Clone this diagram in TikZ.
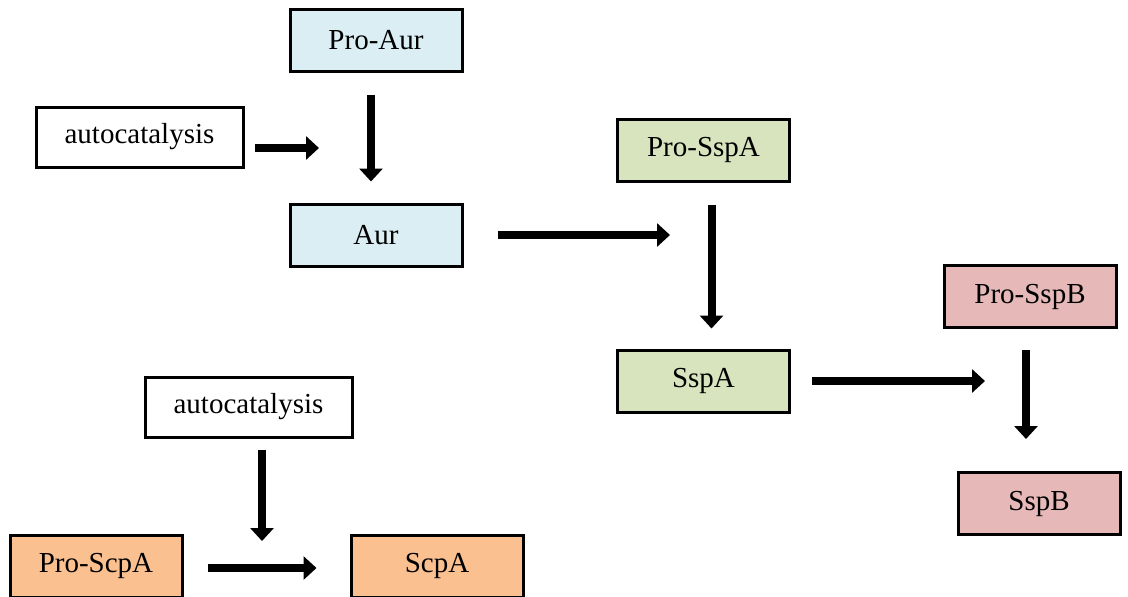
\documentclass[tikz,border=0pt]{standalone}
\usepackage{fontspec}
\setmainfont{Liberation Serif}
\usetikzlibrary{arrows.meta}

\definecolor{aurblue}{HTML}{DAEEF3}
\definecolor{sspagreen}{HTML}{D7E4BD}
\definecolor{sspbpink}{HTML}{E6B9B8}
\definecolor{scpaorange}{HTML}{FAC090}

\begin{document}
\begin{tikzpicture}[
    x=0.5pt, y=-0.5pt,
    box/.style={rectangle, draw, line width=1.5pt, minimum width=86pt, minimum height=31pt, inner sep=0pt, font=\fontsize{14.5}{17}\selectfont},
    auto/.style={box, fill=white, minimum width=103.5pt, minimum height=30pt},
    aur/.style={box, fill=aurblue},
    sspa/.style={box, fill=sspagreen},
    sspb/.style={box, fill=sspbpink},
    scpa/.style={box, fill=scpaorange},
    arrow/.style={-{Triangle[width=11.5pt, length=6.5pt]}, line width=4pt}
]
\useasboundingbox (0,0) rectangle (1128,596);

\node[aur] (proaur) at (376,40.5) {Pro-Aur};
\node[auto] (auto1) at (139.5,137) {autocatalysis};
\node[aur] (aur) at (376,235) {Aur};
\node[sspa] (prosspa) at (703.5,150) {Pro-SspA};
\node[sspa] (sspa) at (703.5,381) {SspA};
\node[sspb] (prosspb) at (1030,296.5) {Pro-SspB};
\node[sspb, minimum width=81pt] (sspb) at (1039,503.5) {SspB};
\node[auto] (auto2) at (248.5,407) {autocatalysis};
\node[scpa] (proscpa) at (96,566) {Pro-ScpA};
\node[scpa] (scpa) at (437,566) {ScpA};

% free ends
\coordinate (a1end) at (319,148);
\coordinate (a3end) at (670,235);
\coordinate (a5end) at (985,381);
\coordinate (a6end) at (1026,439);
\coordinate (a7end) at (262,541);

% Arrows
\draw[arrow, shorten <=5pt] (auto1.east |- a1end) -- (a1end);
\draw[arrow, shorten <=11pt, shorten >=10.5pt] ([xshift=-2.5pt]proaur.south) -- ([xshift=-2.5pt]aur.north);
\draw[arrow, shorten <=17pt] (aur) -- (a3end);
\draw[arrow, shorten <=11pt, shorten >=10pt] ([xshift=4pt]prosspa.south) -- ([xshift=4pt]sspa.north);
\draw[arrow, shorten <=10.5pt] (sspa) -- (a5end);
\draw[arrow, shorten <=10.5pt] (a6end |- prosspb.south) -- (a6end);
\draw[arrow, shorten <=5.5pt] (a7end |- auto2.south) -- (a7end);
\draw[arrow, shorten <=12pt, shorten >=16.5pt] ([yshift=-1pt]proscpa.east) -- ([yshift=-1pt]scpa.west);

\end{tikzpicture}
\end{document}
